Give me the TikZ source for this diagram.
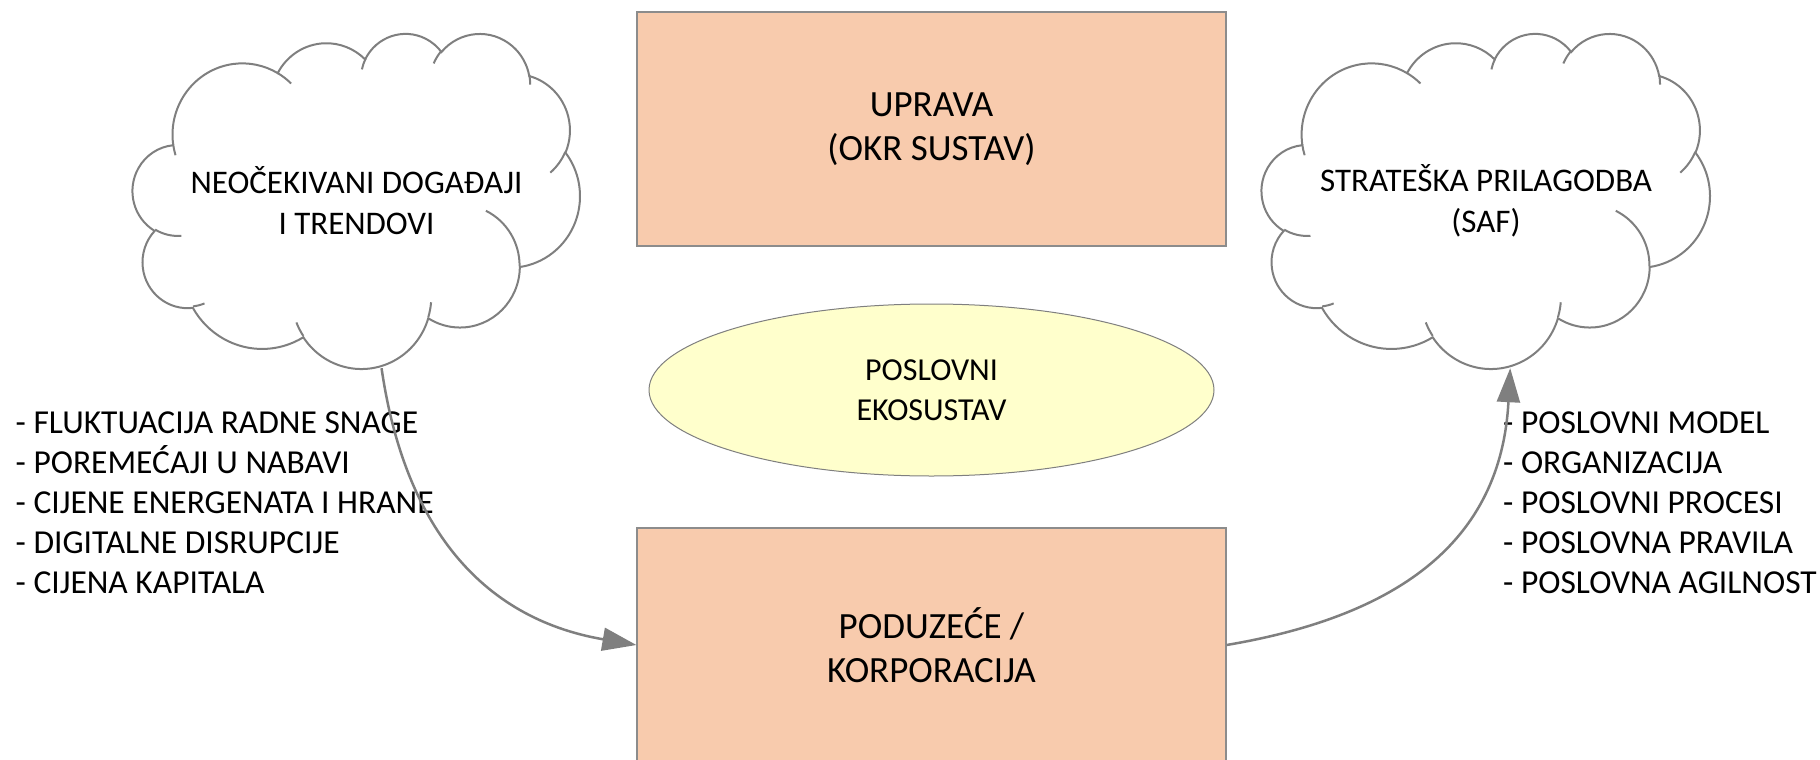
\documentclass[tikz,border=0pt]{standalone}
\usepackage{fontspec}
\setmainfont{Carlito}
\usetikzlibrary{arrows.meta,shapes.geometric,calc}

\definecolor{boxfill}{HTML}{F8CBAD}
\definecolor{ecofill}{HTML}{FFFFCC}
\definecolor{edge}{HTML}{7F7F7F}
\definecolor{boxedge}{HTML}{8C8C8C}

% Elliptical arc given by radii and a geometric start angle / sweep
% (angles measured on the ellipse as seen, converted to parametric ones).
\newcommand\cloudarc[4]{arc[x radius=#1, y radius=#2,
  start angle={atan2(#1*sin(#3),#2*cos(#3))},
  delta angle={#4+Mod(atan2(#1*sin(#3+#4),#2*cos(#3+#4))-atan2(#1*sin(#3),#2*cos(#3))-#4+180,360)-180}]}

% Cloud outline in a 43.2 x 43.2 frame, placed over the box of node #1
\newcommand\drawcloud[3]{%
  \begin{scope}[shift={(#1.north west)}, xscale=#2/43.2, yscale=#3/43.2]
    \draw[cloudline] (3.9,14.37)
      \cloudarc{6.753}{9.19}{-190.4875}{123.7805}
      \cloudarc{5.333}{7.267}{-144.1024}{89.9452}
      \cloudarc{4.365}{5.945}{-145.8079}{99.7230}
      \cloudarc{4.857}{6.595}{-130.9861}{117.2417}
      \cloudarc{5.333}{7.273}{-78.7089}{109.0269}
      \cloudarc{6.775}{9.22}{-46.2673}{130.2690}
      \cloudarc{5.785}{7.867}{0.6250}{114.0333}
      \cloudarc{6.752}{9.215}{22.4516}{115.1726}
      \cloudarc{7.72}{10.543}{66.2426}{75.7110}
      \cloudarc{4.36}{5.918}{-274.9421}{146.7356}
      \cloudarc{4.345}{5.945}{-246.8285}{152.5189}
      -- cycle;
    \draw[cloudline]
      (4.693,26.177) \cloudarc{4.345}{5.945}{86.742}{26.4295}
      (6.928,34.899) \cloudarc{4.36}{5.918}{73.6105}{11.4475}
      (16.478,39.09) \cloudarc{6.752}{9.215}{137.6242}{14.0811}
      (28.827,34.751) \cloudarc{6.752}{9.215}{6.4533}{15.9984}
      (34.129,22.954) \cloudarc{5.785}{7.867}{-70.2924}{70.9174}
      (41.798,15.354) \cloudarc{5.333}{7.273}{30.318}{27.7515}
      (38.324,5.426) \cloudarc{4.857}{6.595}{-13.7443}{14.8589}
      (29.078,3.952) \cloudarc{4.857}{6.595}{-149.1815}{18.1954}
      (22.141,4.72) \cloudarc{4.365}{5.945}{-163.4943}{17.6864}
      (14,5.192) \cloudarc{6.753}{9.19}{-66.707}{12.3194}
      (4.127,15.789) \cloudarc{6.753}{9.19}{157.6544}{11.8582};
  \end{scope}}

\tikzset{
  panel/.style={rectangle, draw=boxedge, line width=1.2pt, fill=boxfill,
    minimum width=589pt, minimum height=234pt, inner sep=0pt, align=center,
    font=\fontsize{37}{44}\selectfont},
  eco/.style={ellipse, draw=edge, line width=1pt, fill=ecofill,
    minimum width=565pt, minimum height=172pt, inner sep=0pt, align=center,
    font=\fontsize{32}{40}\selectfont},
  cloudnode/.style={rectangle, inner sep=0pt, minimum height=335pt, align=center,
    font=\fontsize{33}{41}\selectfont},
  cloudline/.style={draw=edge, line width=2pt},
  listtext/.style={inner sep=0pt, align=left, anchor=north west,
    font=\fontsize{33.5}{40}\selectfont},
  flow/.style={draw=edge, line width=2.5pt, -{Triangle[length=34pt, width=23pt]}},
}

\begin{document}
\begin{tikzpicture}[x=1pt, y=-1pt]
  \useasboundingbox (0,0) rectangle (1820,760);
  \clip (0,0) rectangle (1820,760);

  % management and company boxes, business ecosystem in between
  \node[panel] (okr) at (931.5,129) {UPRAVA\\(OKR SUSTAV)};
  \node[eco] (eco) at (931.5,390) {POSLOVNI\\EKOSUSTAV};
  \node[panel] (corp) at (931.5,645) {PODUZEĆE /\\KORPORACIJA};

  % the two clouds
  \node[cloudnode, minimum width=447pt] (lc) at (356.5,200.5)
    {NEOČEKIVANI DOGAĐAJI\\I TRENDOVI};
  \node[cloudnode, minimum width=448pt] (rc) at (1486,200.5)
    {STRATEŠKA PRILAGODBA\\(SAF)};
  \drawcloud{lc}{447}{335}
  \drawcloud{rc}{448}{335}

  \coordinate (lcb) at ($(lc.south west)!0.556!(lc.south east)$);
  \coordinate (rcb) at ($(rc.south west)!0.554!(rc.south east)$);

  % side lists
  \node[listtext] (causes) at (15.5,412) {- FLUKTUACIJA RADNE SNAGE\\- POREMEĆAJI U NABAVI\\- CIJENE ENERGENATA I HRANE\\- DIGITALNE DISRUPCIJE\\- CIJENA KAPITALA};
  \node[listtext] (changes) at (1503,412) {- POSLOVNI MODEL\\- ORGANIZACIJA\\- POSLOVNI PROCESI\\- POSLOVNA PRAVILA\\- POSLOVNA AGILNOST};

  % curved connectors
  \draw[flow] (lcb) .. controls (404,523) and (479,618) .. (corp.west);
  \draw[flow] (corp.east) .. controls (1398,616) and (1501,542) .. (rcb);
\end{tikzpicture}
\end{document}
